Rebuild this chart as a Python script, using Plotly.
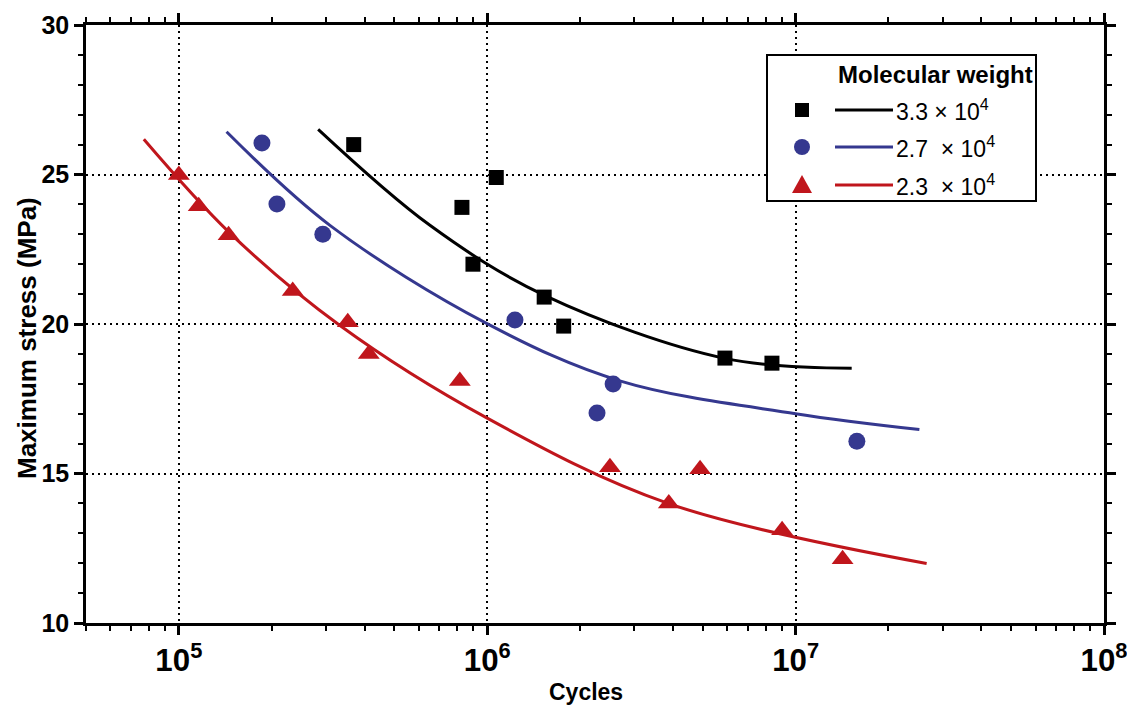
import plotly.graph_objects as go
import numpy as np

# ---- data ----
sq_x = [3.69e5, 8.28e5, 1.07e6, 8.99e5, 1.53e6, 1.77e6, 5.9e6, 8.38e6]
sq_y = [26.0, 23.9, 24.9, 22.0, 20.9, 19.93, 18.86, 18.69]

ci_x = [1.86e5, 2.08e5, 2.93e5, 1.23e6, 2.56e6, 2.27e6, 1.58e7]
ci_y = [26.05, 24.01, 23.0, 20.13, 17.99, 17.02, 16.08]

tr_x = [1.0e5, 1.16e5, 1.45e5, 2.34e5, 3.53e5, 4.13e5, 8.15e5, 2.5e6, 4.9e6, 3.88e6, 9.04e6, 1.42e7]
tr_y = [24.98, 23.94, 22.97, 21.1, 20.06, 19.0, 18.09, 15.21, 15.14, 14.0, 13.1, 12.13]

fit_k_x = [2.83e5, 6.52e5, 1.54e6, 5.9e6, 1.52e7]
fit_k_y = [26.51, 23.3, 20.95, 18.85, 18.52]

fit_b_x = [1.428e5, 3.09e5, 9.95e5, 2.69e6, 1.0e7, 2.52e7]
fit_b_y = [26.43, 23.3, 20.02, 18.1, 17.0, 16.47]

fit_r_x = [7.7e4, 1.462e5, 3.33e5, 1.0e6, 3.86e6, 2.66e7]
fit_r_y = [26.18, 23.05, 19.95, 16.85, 14.0, 11.99]

legend_title = "Molecular weight"
legend_labels = ["3.3 × 10<sup>4</sup>", "2.7\u00a0\u00a0× 10<sup>4</sup>", "2.3\u00a0\u00a0× 10<sup>4</sup>"]

BLACK = "#000000"
BLUE = "#35388f"
RED = "#c0161c"

fig = go.Figure()

for fx, fy, col in [(fit_k_x, fit_k_y, BLACK), (fit_b_x, fit_b_y, BLUE), (fit_r_x, fit_r_y, RED)]:
    fig.add_trace(go.Scatter(x=fx, y=fy, mode="lines", line=dict(color=col, width=3, shape="spline", smoothing=1.0),
                             showlegend=False, hoverinfo="skip"))

fig.add_trace(go.Scatter(x=sq_x, y=sq_y, mode="markers",
                         marker=dict(symbol="square", size=15, color=BLACK), showlegend=False))
fig.add_trace(go.Scatter(x=ci_x, y=ci_y, mode="markers",
                         marker=dict(symbol="circle", size=17, color=BLUE), showlegend=False))
fig.add_trace(go.Scatter(x=tr_x, y=tr_y, mode="markers",
                         marker=dict(symbol="triangle-up", size=19, color=RED), showlegend=False))

FONT = "Liberation Sans, Arial, sans-serif"

axis_common = dict(
    showline=True, linecolor="black", linewidth=2.5, mirror="allticks",
    ticks="outside", ticklen=9, tickwidth=2.5, tickcolor="black",
    showgrid=True, gridcolor="black", gridwidth=2, griddash="2px,4px",
    zeroline=False, automargin=False, ticklabeloverflow="allow",
    tickfont=dict(family=FONT, size=25, color="black", weight="bold"),
)

fig.update_xaxes(type="log", range=[np.log10(5e4), 8], dtick=1, exponentformat="power",
                 minor=dict(ticks="outside", ticklen=5, tickwidth=2, tickcolor="black", showgrid=False),
                 **axis_common)
fig.update_yaxes(range=[10, 30], dtick=5,
                 minor=dict(ticks="outside", ticklen=5, tickwidth=2, tickcolor="black", dtick=1, showgrid=False),
                 **axis_common)

L, R, T, B = 86, 23, 25, 83
W, H = 1127, 706
pw, ph = W - L - R, H - T - B

def px(xp):
    return (xp - L) / pw

def py(yp):
    return 1 - (yp - T) / ph

# custom legend box
fig.add_shape(type="rect", xref="paper", yref="paper", x0=px(767), x1=px(1036), y0=py(201), y1=py(55),
              line=dict(color="black", width=2), fillcolor="white", layer="above")
fig.add_annotation(xref="paper", yref="paper", x=px(1035), y=py(74), text="<b>%s</b>" % legend_title,
                   showarrow=False, xanchor="right", yanchor="middle",
                   font=dict(family=FONT, size=24, color="black"))
rows = [110, 147, 185]
cols = [BLACK, BLUE, RED]
for yy, col, lab in zip(rows, cols, legend_labels):
    fig.add_shape(type="line", xref="paper", yref="paper", x0=px(835), x1=px(893), y0=py(yy), y1=py(yy),
                  line=dict(color=col, width=3), layer="above")
    fig.add_annotation(xref="paper", yref="paper", x=px(894), y=py(yy), text=lab, showarrow=False,
                       xanchor="left", yanchor="middle", font=dict(family=FONT, size=23, color="black"))
fig.add_shape(type="rect", xref="paper", yref="paper", x0=px(795), x1=px(809), y0=py(117), y1=py(103),
              line=dict(width=0), fillcolor=BLACK, layer="above")
fig.add_shape(type="circle", xref="paper", yref="paper", x0=px(794), x1=px(810), y0=py(155), y1=py(139),
              line=dict(width=0), fillcolor=BLUE, layer="above")
tx0, tx1, tyb, tyt = px(792), px(812), py(193), py(175)
fig.add_shape(type="path", xref="paper", yref="paper",
              path=f"M {tx0} {tyb} L {tx1} {tyb} L {(tx0+tx1)/2} {tyt} Z",
              line=dict(width=0), fillcolor=RED, layer="above")

fig.add_annotation(xref="paper", yref="paper", x=px(586), y=py(692), text="<b>Cycles</b>", showarrow=False,
                   xanchor="center", yanchor="middle", font=dict(family=FONT, size=23, color="black"))
fig.add_annotation(xref="paper", yref="paper", x=px(27), y=py(338), text="<b>Maximum stress (MPa)</b>",
                   showarrow=False, textangle=-90, xanchor="center", yanchor="middle",
                   font=dict(family=FONT, size=26, color="black"))

fig.update_layout(width=W, height=H, margin=dict(l=L, r=R, t=T, b=B, autoexpand=False),
                  plot_bgcolor="white", paper_bgcolor="white", showlegend=False)

fig.write_html("out.html")
